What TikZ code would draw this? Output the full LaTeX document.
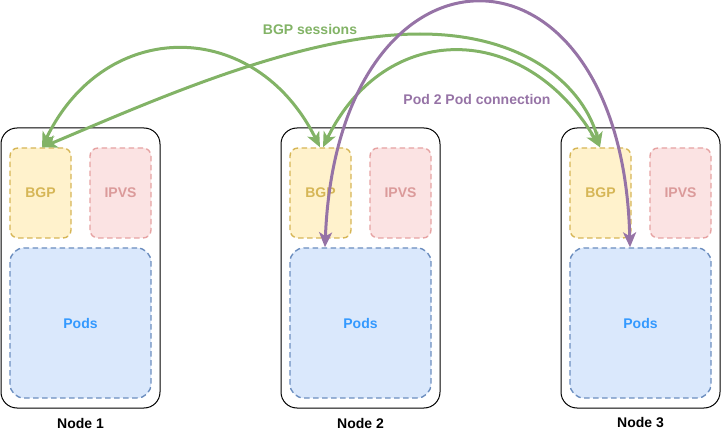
\documentclass[tikz,border=0pt]{standalone}
\usepackage{fontspec}
\setmainfont{Liberation Sans}
\usetikzlibrary{arrows.meta}
\definecolor{bgpfill}{HTML}{FFF2CC}
\definecolor{bgpline}{HTML}{D6B656}
\definecolor{ipvsfill}{HTML}{FBE3E3}
\definecolor{ipvsline}{HTML}{E6A3A3}
\definecolor{ipvstext}{HTML}{DB9A9A}
\definecolor{podfill}{HTML}{DAE8FC}
\definecolor{podline}{HTML}{6C8EBF}
\definecolor{podtext}{HTML}{3399FF}
\definecolor{bgpgreen}{HTML}{82B366}
\definecolor{podpurple}{HTML}{9673A6}
\tikzset{
  hostbox/.style={draw=black, line width=1pt, rounded corners=16pt, minimum width=159pt, minimum height=280pt, inner sep=0pt},
  svcbox/.style={dash pattern=on 5.5pt off 3.5pt, line width=1.4pt, rounded corners=8pt, minimum width=61pt, minimum height=90pt, inner sep=0pt, font=\fontsize{14}{16}\selectfont\bfseries},
  podbox/.style={svcbox, rounded corners=14pt, minimum width=141pt, minimum height=150pt},
  hostlabel/.style={font=\fontsize{14}{16}\selectfont\bfseries, text=black},
  session/.style={draw=bgpgreen, line width=3pt, {Stealth[length=15pt,width=13pt,inset=4pt]}-{Stealth[length=15pt,width=13pt,inset=4pt]}},
  podlink/.style={draw=podpurple, line width=3pt, {Stealth[length=15pt,width=13pt,inset=4pt]}-{Stealth[length=15pt,width=13pt,inset=4pt]}},
  caption/.style={font=\fontsize{14}{16}\selectfont\bfseries}
}
\begin{document}
\begin{tikzpicture}[x=1pt,y=-1pt]
\useasboundingbox (0,0) rectangle (721,433);
% three hosts, each with a BGP speaker, IPVS and a pod area
\foreach \i/\dx in {1/0,2/280,3/560}{
  \node[hostbox] (n\i) at (80.5+\dx,268) {};
  \node[svcbox, draw=bgpline, fill=bgpfill, text=bgpline] (bgp\i) at (40.5+\dx,193) {BGP};
  \node[svcbox, draw=ipvsline, fill=ipvsfill, text=ipvstext] (ipvs\i) at (120.5+\dx,193) {IPVS};
  \node[podbox, draw=podline, fill=podfill, text=podtext] (pods\i) at (80.5+\dx,323) {Pods};
  \node[hostlabel] (lbl\i) at (80.5+\dx,423) {Node \i};
}
% captions
\node[caption, text=bgpgreen] (bgpcap) at (310,29) {BGP sessions};
\node[caption, text=podpurple] (podcap) at (477,99) {Pod 2 Pod connection};
% BGP peerings between the hosts
\draw[session] ([xshift=1.5pt]bgp1.north) .. controls (105,17) and (255,17) .. ([xshift=-0.5pt]bgp2.north);
\draw[session] ([xshift=2.5pt]bgp2.north) .. controls (385,20) and (525,20) .. ([xshift=-0.5pt]bgp3.north);
\draw[session] ([xshift=1.5pt]bgp1.north) .. controls (150,102) and (300,34) .. (420,34)
  .. controls (530,34) and (585,90) .. ([xshift=-0.5pt]bgp3.north);
% pod to pod traffic
\draw[podlink] ([xshift=-35.5pt]pods2.north) .. controls (338,-78) and (622,-78) .. ([xshift=-10.5pt]pods3.north);
\end{tikzpicture}
\end{document}
